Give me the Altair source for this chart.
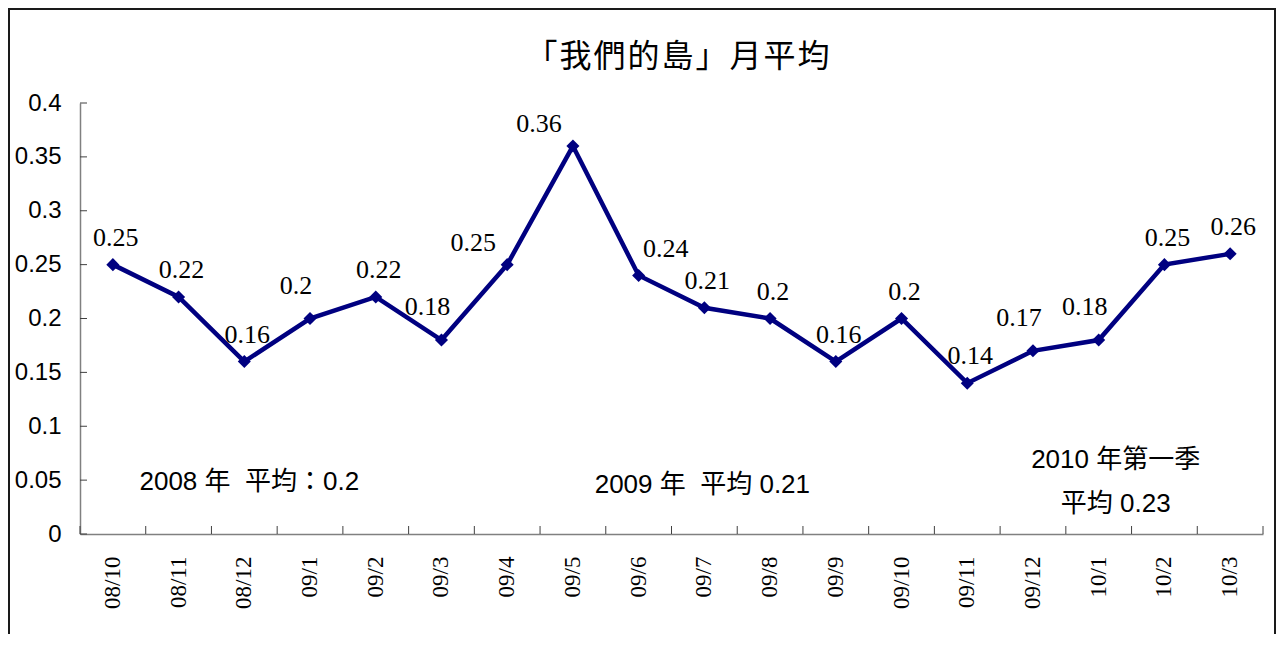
import altair as alt
import pandas as pd
import json

# ---- data ----
months = ["08/10", "08/11", "08/12", "09/1", "09/2", "09/3", "09/4", "09/5", "09/6",
          "09/7", "09/8", "09/9", "09/10", "09/11", "09/12", "10/1", "10/2", "10/3"]
values = [0.25, 0.22, 0.16, 0.2, 0.22, 0.18, 0.25, 0.36, 0.24,
          0.21, 0.2, 0.16, 0.2, 0.14, 0.17, 0.18, 0.25, 0.26]
y_ticks = [0, 0.05, 0.1, 0.15, 0.2, 0.25, 0.3, 0.35, 0.4]
title_text = "「我們的島」月平均"

# which value labels sit beside rather than above their point
labels_left = ["09/4", "09/5"]
labels_upleft = ["09/1", "09/3", "09/12", "10/1"]
labels_right = ["09/6"]

note_2008 = "2008 年 \u00a0平均：0.2"
note_2009 = "2009 年 \u00a0平均 0.21"
note_2010 = ["2010 年第一季", "平均 0.23"]

# ---- layout / style ----
W, H = 1183, 431
PL, PT, PR, PB = 72, 95, 13, 100
NAVY = "#000080"
SERIF = "'Liberation Serif', 'Times New Roman', serif"
SANS = "'Liberation Sans', Arial, 'Noto Sans CJK TC', sans-serif"
CJK = "'Noto Sans CJK TC', 'Noto Sans CJK JP', sans-serif"
AXIS_GRAY = "#808080"
TICK = "#404040"

df = pd.DataFrame({"month": months, "value": values,
                   "label": [str(v) for v in values]})

x_scale = alt.Scale(type="band", domain=months, paddingInner=0, paddingOuter=0)
y_scale = alt.Scale(domain=[0, 0.4], nice=False, zero=True)

x_axis = alt.Axis(labelAngle=270, labelFont=SERIF, labelFontSize=23, labelColor="black",
                  ticks=False, tickSize=0, labelPadding=22, domainColor=AXIS_GRAY,
                  domainWidth=1.5, grid=False, title=None, labelOverlap=False)
y_axis = alt.Axis(values=y_ticks, format="~g", labelFont=SANS, labelFontSize=24,
                  labelColor="black", ticks=False, tickSize=0, labelPadding=19,
                  domainColor=AXIS_GRAY, domainWidth=1.5, grid=False, title=None,
                  labelFlush=False, labelOverlap=False)

def X(field="month", **kw):
    return alt.X(f"{field}:N", sort=months, scale=x_scale, **kw)

def Y(field="value", **kw):
    return alt.Y(f"{field}:Q", scale=y_scale, **kw)

base = alt.Chart(df)

line = base.mark_line(color=NAVY, strokeWidth=4.5).encode(
    x=X(axis=x_axis), y=Y(axis=y_axis))
pts = base.mark_point(shape="diamond", filled=True, size=170, color=NAVY, opacity=1).encode(
    x=X(), y=Y())

def in_list(lst):
    return f"indexof({json.dumps(lst)}, datum.month) >= 0"

others = labels_left + labels_upleft + labels_right

def label_layer(expr, dx, dy):
    return base.transform_filter(expr).mark_text(
        font=SERIF, fontSize=26, color="black", align="center",
        baseline="alphabetic", dx=dx, dy=dy).encode(x=X(), y=Y(), text="label:N")

lab_c = label_layer(f"indexof({json.dumps(others)}, datum.month) < 0", 3, -19)
lab_l = label_layer(in_list(labels_left), -34, -14)
lab_ul = label_layer(in_list(labels_upleft), -14, -25)
lab_r = label_layer(in_list(labels_right), 27, -18)

# inward tick marks
xt = base.mark_rule(color=TICK, strokeWidth=1).encode(
    x=X(bandPosition=0), y=alt.value(H - 8), y2=alt.value(H))
xt_end = base.transform_filter(f"datum.month == '{months[-1]}'").mark_rule(
    color=TICK, strokeWidth=1).encode(
    x=X(bandPosition=1), y=alt.value(H - 8), y2=alt.value(H))
yt = alt.Chart(pd.DataFrame({"tick": y_ticks})).mark_rule(color=TICK, strokeWidth=1).encode(
    y=Y("tick"), x=alt.value(0), x2=alt.value(7))

# annotations
def note(text, anchor, yv, dx):
    d = pd.DataFrame({"anchor": [anchor], "y": [yv], "text": [text]})
    return alt.Chart(d).mark_text(font=SANS, fontSize=26, color="black", align="center",
                                  baseline="alphabetic", dx=dx, lineHeight=44).encode(
        x=X("anchor"), y=Y("y"), text="text")

n1 = note(note_2008, "08/12", 0.041, 5)
n2 = note(note_2009, "09/7", 0.038, -2)
n3 = note(note_2010, "10/1", 0.061, 17)

# chart title (drawn as text so the outer frame does not push it away);
# hair spaces widen the character spacing like the reference
spaced_title = "\u200a".join(title_text)
title = alt.Chart(pd.DataFrame({"t": [spaced_title]})).mark_text(
    font=CJK, fontSize=32, color="black", align="center", baseline="middle").encode(
    x=alt.value(W / 2 + 6), y=alt.value(-46), text="t:N")

# outer chart frame
frame = alt.Chart(pd.DataFrame({"a": [0]})).mark_rect(
    fillOpacity=0, stroke="#1a1a1a", strokeWidth=2).encode(
    x=alt.value(-PL + 1), x2=alt.value(W + PR - 1),
    y=alt.value(-PT + 1), y2=alt.value(H + PB + 60))

chart = alt.layer(line, pts, xt, xt_end, yt, lab_c, lab_l, lab_ul, lab_r,
                  n1, n2, n3, title, frame).properties(
    width=W, height=H, autosize="none",
    padding={"left": PL, "top": PT, "right": PR, "bottom": PB},
    background="white",
).configure_view(strokeWidth=0)

chart.save("out.html", embed_options={"renderer": "svg", "actions": False})
